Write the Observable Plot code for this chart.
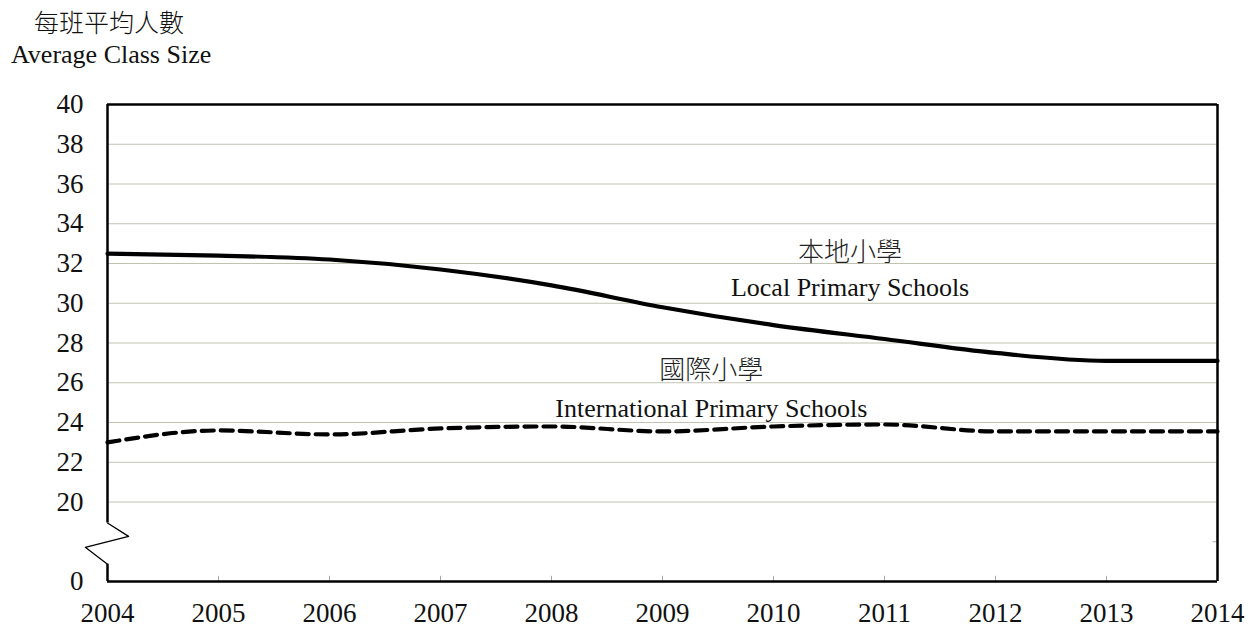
<!DOCTYPE html>
<html>
<head>
<meta charset="utf-8">
<script src="https://cdn.jsdelivr.net/npm/d3@7"></script>
<script src="https://cdn.jsdelivr.net/npm/@observablehq/plot@0.6"></script>
<style>
  html, body { margin: 0; padding: 0; background: #fff; }
  body { width: 1257px; height: 628px; overflow: hidden; font-family: "Liberation Serif", "Noto Sans CJK TC", serif; }
  #title { position: relative; height: 80px; width: 1257px; color: #111; }
  #title span { position: absolute; white-space: nowrap; font-size: 26px; line-height: 1; }
  .zh { font-family: "Noto Sans CJK TC", sans-serif; font-weight: 300; font-size: 25px !important; }
</style>
</head>
<body>
<div id="title">
  <span class="zh" style="left:34px; top:9px;">每班平均人數</span>
  <span style="left:11px; top:42px;">Average Class Size</span>
</div>
<div id="chart"></div>
<script>
// ---- data ----
const years = [2004, 2005, 2006, 2007, 2008, 2009, 2010, 2011, 2012, 2013, 2014];
const localSize = [32.5, 32.4, 32.2, 31.7, 30.9, 29.8, 28.9, 28.2, 27.5, 27.1, 27.1];
const intlSize  = [23.0, 23.6, 23.4, 23.7, 23.8, 23.55, 23.8, 23.9, 23.55, 23.55, 23.55];
const yTicks = [16, 20, 22, 24, 26, 28, 30, 32, 34, 36, 38, 40]; // 16 is drawn as "0" (broken axis)
const yTickLabels = ["0", "20", "22", "24", "26", "28", "30", "32", "34", "36", "38", "40"];
const gridTicks = [20, 22, 24, 26, 28, 30, 32, 34, 36, 38];
const seriesLabels = [
  {x: 2010.69, y: 32.55, text: "本地小學", zh: true},
  {x: 2010.69, y: 30.8, text: "Local Primary Schools", zh: false},
  {x: 2009.44, y: 26.6, text: "國際小學", zh: true},
  {x: 2009.44, y: 24.7, text: "International Primary Schools", zh: false}
];
// axis break (zigzag) on the left axis, in axis units
const breakTop = 18.94, breakBottom = 16.87;
const breakPath = [
  {x: 2004, y: breakTop},
  {x: 2004.19, y: 18.27},
  {x: 2003.80, y: 17.72},
  {x: 2004, y: breakBottom}
];

const localData = years.map((yr, i) => ({year: yr, value: localSize[i]}));
const intlData = years.map((yr, i) => ({year: yr, value: intlSize[i]}));

const serif = "'Liberation Serif', 'Times New Roman', serif";

const chart = Plot.plot({
  width: 1257,
  height: 548,
  marginTop: 24,
  marginBottom: 47,
  marginLeft: 107,
  marginRight: 40,
  style: {fontFamily: serif, fontSize: "26px", color: "#111", background: "#fff"},
  x: {domain: [2004, 2014]},
  y: {domain: [16, 40]},
  marks: [
    Plot.gridY(gridTicks, {stroke: "#c2c2b2", strokeOpacity: 1, strokeWidth: 1}),
    Plot.axisY({ticks: yTicks, tickFormat: d => yTickLabels[yTicks.indexOf(d)], tickSize: 0, tickPadding: 24, label: null, fontSize: 27}),
    Plot.axisX({ticks: years, tickFormat: d => String(d), tickSize: 0, tickPadding: 21, label: null, fontSize: 27}),
    // inner tick marks
    Plot.ruleX(years.slice(1, -1), {x: d => d, y1: 16, y2: 16.26, stroke: "#aaa", strokeWidth: 1}),
    Plot.ruleY([18], {x1: 2014 - 0.04, x2: 2014, stroke: "#aaa", strokeWidth: 1}),
    // frame
    Plot.ruleY([40], {stroke: "#000", strokeWidth: 2.5}),
    Plot.ruleY([16], {stroke: "#000", strokeWidth: 2.5}),
    Plot.ruleX([2014], {y1: 16, y2: 40, stroke: "#000", strokeWidth: 2.5}),
    Plot.ruleX([2004], {y1: breakTop, y2: 40, stroke: "#000", strokeWidth: 2.5}),
    Plot.ruleX([2004], {y1: 16, y2: breakBottom, stroke: "#000", strokeWidth: 2.5}),
    Plot.line(breakPath, {x: "x", y: "y", stroke: "#000", strokeWidth: 1.3}),
    // series
    Plot.line(localData, {x: "year", y: "value", stroke: "#000", strokeWidth: 4.2, curve: "monotone-x"}),
    Plot.line(intlData, {x: "year", y: "value", stroke: "#000", strokeWidth: 4.2, strokeDasharray: "12,7", curve: "monotone-x"}),
    // labels
    Plot.text(seriesLabels.filter(d => d.zh), {x: "x", y: "y", text: "text", fontSize: 26, fill: "#222"}),
    Plot.text(seriesLabels.filter(d => !d.zh), {x: "x", y: "y", text: "text", fontSize: 26, fill: "#111"})
  ]
});
// force fonts with inline styles
d3.select(chart).selectAll("text").each(function() {
  const t = this.textContent || "";
  if (/[\u3400-\u9fff]/.test(t)) {
    this.style.fontFamily = "'Noto Sans CJK TC', sans-serif";
    this.style.fontWeight = "300";
  } else {
    this.style.fontFamily = "'Liberation Serif', serif";
    this.style.fontVariant = "normal";
  }
});
document.getElementById("chart").appendChild(chart);
</script>
</body>
</html>
